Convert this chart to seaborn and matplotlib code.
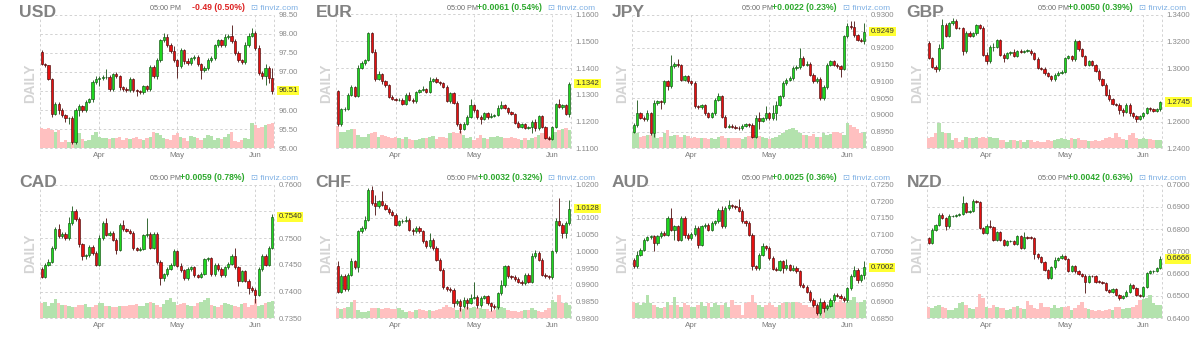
import numpy as np
import pandas as pd
import matplotlib
matplotlib.use("Agg")
import matplotlib.pyplot as plt
import seaborn as sns

sns.set_theme(style="white")
plt.rcParams["font.family"] = ["Liberation Sans", "DejaVu Sans"]

# ---------------- data ----------------
month_labels = ["Apr", "May", "Jun"]
month_idx = [17, 40, 63]

usd_open0 = 97.52
usd_close = [97.21,97.17,96.82,95.91,96.17,96.00,95.87,95.78,95.80,95.17,
             96.00,96.10,96.00,96.22,96.28,96.74,96.82,96.84,96.86,96.87,
             96.56,96.95,96.90,96.60,96.56,96.52,96.80,96.52,96.50,96.46,
             96.62,96.56,97.12,96.88,97.30,97.82,97.90,97.70,97.55,97.30,
             97.15,97.56,97.28,97.22,97.35,97.38,97.20,97.05,97.10,97.30,
             97.37,97.70,97.82,97.70,97.90,97.93,97.80,97.50,97.30,97.25,
             97.70,97.95,98.02,97.63,96.98,96.90,97.10,96.85,96.51]
usd_wick_hi = [0.04,0.03,0.02,0.03,0.05,0.05,0.05,0.03,0.03,0.05,
               0.05,0.05,0.04,0.05,0.04,0.05,0.06,0.04,0.05,0.20,
               0.04,0.03,0.05,0.03,0.03,0.04,0.06,0.05,0.04,0.03,
               0.04,0.04,0.05,0.05,0.05,0.05,0.12,0.10,0.05,0.12,
               0.03,0.06,0.05,0.08,0.05,0.05,0.05,0.04,0.04,0.05,
               0.05,0.04,0.05,0.05,0.08,0.05,0.30,0.05,0.04,0.04,
               0.08,0.06,0.12,0.05,0.06,0.05,0.10,0.05,0.25]
usd_wick_lo = [0.04,0.04,0.04,0.08,0.05,0.10,0.05,0.08,0.15,0.05,
               0.05,0.15,0.05,0.05,0.04,0.08,0.05,0.20,0.05,0.05,
               0.05,0.05,0.05,0.08,0.05,0.05,0.05,0.05,0.12,0.05,
               0.05,0.05,0.05,0.05,0.08,0.05,0.04,0.05,0.05,0.05,
               0.30,0.05,0.08,0.05,0.05,0.05,0.05,0.25,0.05,0.05,
               0.05,0.05,0.05,0.05,0.05,0.05,0.05,0.05,0.05,0.05,
               0.05,0.05,0.05,0.05,0.05,0.10,0.25,0.15,0.10]
usd_vol = [62,58,60,55,48,55,20,25,18,18,55,45,28,22,25,40,50,35,32,30,
           28,30,32,35,25,30,28,32,35,28,25,30,35,50,45,40,32,28,25,40,
           45,35,30,22,38,35,30,25,30,40,38,25,30,28,35,42,50,22,20,25,
           30,28,75,70,62,65,70,72,75]
usd_ticks = [95.00, 95.50, 96.00, 96.50, 97.00, 97.50, 98.00, 98.50]

eur_open0 = 1.1315
eur_close = [1.1190,1.1245,1.1248,1.1300,1.1330,1.1296,1.1400,1.1418,1.1430,1.1530,
             1.1460,1.1360,1.1378,1.1350,1.1335,1.1292,1.1285,1.1280,1.1282,1.1265,
             1.1300,1.1282,1.1276,1.1310,1.1318,1.1322,1.1310,1.1352,1.1358,1.1348,
             1.1343,1.1330,1.1278,1.1305,1.1270,1.1190,1.1173,1.1192,1.1218,1.1260,
             1.1242,1.1218,1.1210,1.1232,1.1218,1.1222,1.1224,1.1252,1.1262,1.1250,
             1.1235,1.1228,1.1196,1.1180,1.1190,1.1176,1.1178,1.1200,1.1175,1.1220,
             1.1180,1.1140,1.1135,1.1180,1.1265,1.1255,1.1262,1.1228,1.1342]
eur_wick_hi = [0.0003,0.0005,0.0005,0.0005,0.0005,0.0003,0.0010,0.0010,0.0005,0.0005,
               0.0005,0.0010,0.0010,0.0005,0.0005,0.0005,0.0008,0.0003,0.0005,0.0005,
               0.0005,0.0010,0.0005,0.0005,0.0005,0.0010,0.0005,0.0015,0.0005,0.0010,
               0.0005,0.0005,0.0005,0.0005,0.0005,0.0005,0.0005,0.0005,0.0008,0.0025,
               0.0005,0.0005,0.0005,0.0005,0.0005,0.0010,0.0005,0.0010,0.0015,0.0005,
               0.0005,0.0005,0.0005,0.0005,0.0005,0.0005,0.0005,0.0005,0.0010,0.0005,
               0.0005,0.0005,0.0005,0.0005,0.0005,0.0020,0.0005,0.0005,0.0005]
eur_wick_lo = [0.0005,0.0005,0.0005,0.0005,0.0005,0.0005,0.0005,0.0005,0.0005,0.0005,
               0.0005,0.0010,0.0005,0.0010,0.0005,0.0005,0.0005,0.0005,0.0005,0.0005,
               0.0005,0.0005,0.0005,0.0005,0.0005,0.0005,0.0005,0.0005,0.0005,0.0005,
               0.0005,0.0005,0.0005,0.0010,0.0005,0.0005,0.0015,0.0005,0.0005,0.0005,
               0.0005,0.0010,0.0020,0.0005,0.0010,0.0005,0.0005,0.0005,0.0005,0.0005,
               0.0005,0.0005,0.0005,0.0005,0.0005,0.0005,0.0005,0.0020,0.0010,0.0005,
               0.0005,0.0005,0.0005,0.0005,0.0005,0.0005,0.0010,0.0005,0.0010]
eur_vol = [67,50,50,55,58,58,40,35,35,42,45,50,35,40,38,35,30,35,30,28,
           35,28,25,25,28,30,30,35,38,28,35,35,30,45,50,45,52,40,30,35,
           25,30,40,30,28,35,35,38,35,30,30,35,32,28,25,30,25,30,35,40,
           45,30,35,40,50,55,58,60,55]
eur_ticks = [1.1100, 1.1200, 1.1300, 1.1400, 1.1500, 1.1600]

jpy_open0 = 0.8950
jpy_close = [0.8970,0.9005,0.8992,0.8988,0.9005,0.8945,0.9035,0.9040,0.9038,0.9100,
             0.9085,0.9145,0.9152,0.9148,0.9105,0.9115,0.9100,0.9095,0.9025,0.9023,
             0.9028,0.9005,0.8995,0.9005,0.9045,0.9055,0.8995,0.8965,0.8968,0.8965,
             0.8962,0.8960,0.8968,0.8972,0.8970,0.8935,0.8990,0.8983,0.8990,0.9005,
             0.8990,0.9005,0.9030,0.9055,0.9095,0.9105,0.9110,0.9140,0.9143,0.9170,
             0.9150,0.9152,0.9120,0.9100,0.9107,0.9050,0.9083,0.9150,0.9160,0.9150,
             0.9145,0.9138,0.9235,0.9265,0.9262,0.9238,0.9225,0.9222,0.9249]
jpy_wick_hi = [0.0005,0.0040,0.0005,0.0005,0.0010,0.0005,0.0010,0.0005,0.0005,0.0005,
               0.0005,0.0035,0.0005,0.0015,0.0005,0.0005,0.0005,0.0005,0.0005,0.0005,
               0.0005,0.0005,0.0005,0.0005,0.0005,0.0010,0.0005,0.0005,0.0005,0.0005,
               0.0005,0.0005,0.0005,0.0005,0.0005,0.0005,0.0010,0.0020,0.0005,0.0020,
               0.0005,0.0025,0.0010,0.0005,0.0005,0.0005,0.0005,0.0005,0.0005,0.0030,
               0.0005,0.0010,0.0005,0.0005,0.0005,0.0005,0.0005,0.0005,0.0005,0.0005,
               0.0005,0.0005,0.0005,0.0010,0.0015,0.0020,0.0005,0.0005,0.0025]
jpy_wick_lo = [0.0005,0.0005,0.0005,0.0005,0.0005,0.0005,0.0010,0.0005,0.0020,0.0005,
               0.0010,0.0005,0.0005,0.0005,0.0005,0.0005,0.0005,0.0005,0.0005,0.0005,
               0.0005,0.0005,0.0005,0.0005,0.0005,0.0005,0.0005,0.0005,0.0005,0.0005,
               0.0005,0.0005,0.0005,0.0005,0.0005,0.0005,0.0005,0.0025,0.0005,0.0005,
               0.0005,0.0005,0.0020,0.0005,0.0005,0.0005,0.0005,0.0005,0.0005,0.0005,
               0.0005,0.0005,0.0005,0.0005,0.0005,0.0005,0.0005,0.0005,0.0005,0.0005,
               0.0005,0.0025,0.0005,0.0005,0.0005,0.0005,0.0005,0.0005,0.0010]
jpy_vol = [50,45,35,38,40,40,42,30,35,45,55,38,40,40,35,40,38,30,35,32,
           30,30,28,30,28,35,38,30,32,30,32,30,28,35,38,42,40,38,35,32,
           28,30,35,40,45,55,58,60,55,45,40,40,38,42,35,35,45,40,42,48,
           50,45,40,75,70,65,58,45,50]
jpy_ticks = [0.8900, 0.8950, 0.9000, 0.9050, 0.9100, 0.9150, 0.9200, 0.9250, 0.9300]

gbp_open0 = 1.3190
gbp_close = [1.3075,1.3010,1.2990,1.3150,1.3320,1.3240,1.3335,1.3355,1.3300,1.3298,
             1.3125,1.3265,1.3240,1.3260,1.3320,1.3300,1.3100,1.3050,1.3155,1.3160,
             1.3210,1.3100,1.3075,1.3110,1.3118,1.3092,1.3125,1.3120,1.3128,1.3130,
             1.3110,1.3070,1.3000,1.2995,1.2960,1.2940,1.2915,1.2950,1.2965,1.2972,
             1.3075,1.3090,1.3065,1.3200,1.3140,1.3090,1.3025,1.3050,1.3022,1.2980,
             1.2915,1.2875,1.2800,1.2765,1.2730,1.2725,1.2688,1.2675,1.2725,1.2665,
             1.2640,1.2620,1.2640,1.2665,1.2700,1.2690,1.2680,1.2690,1.2745]
gbp_wick_hi = [0.0010,0.0010,0.0010,0.0030,0.0050,0.0020,0.0010,0.0020,0.0010,0.0010,
               0.0010,0.0010,0.0010,0.0010,0.0010,0.0010,0.0015,0.0020,0.0020,0.0030,
               0.0010,0.0010,0.0010,0.0010,0.0010,0.0025,0.0010,0.0020,0.0010,0.0010,
               0.0010,0.0010,0.0010,0.0010,0.0010,0.0010,0.0010,0.0010,0.0010,0.0010,
               0.0010,0.0010,0.0010,0.0015,0.0010,0.0010,0.0010,0.0010,0.0010,0.0010,
               0.0010,0.0010,0.0010,0.0040,0.0010,0.0010,0.0010,0.0010,0.0015,0.0010,
               0.0010,0.0010,0.0010,0.0010,0.0010,0.0010,0.0010,0.0010,0.0010]
gbp_wick_lo = [0.0010,0.0010,0.0020,0.0015,0.0010,0.0010,0.0010,0.0010,0.0010,0.0010,
               0.0030,0.0010,0.0010,0.0010,0.0010,0.0010,0.0010,0.0020,0.0010,0.0030,
               0.0010,0.0010,0.0030,0.0010,0.0010,0.0010,0.0010,0.0010,0.0010,0.0010,
               0.0010,0.0010,0.0010,0.0010,0.0010,0.0010,0.0015,0.0010,0.0010,0.0010,
               0.0010,0.0010,0.0010,0.0010,0.0010,0.0010,0.0010,0.0010,0.0010,0.0010,
               0.0010,0.0010,0.0010,0.0010,0.0010,0.0010,0.0030,0.0030,0.0010,0.0020,
               0.0010,0.0020,0.0010,0.0010,0.0010,0.0010,0.0010,0.0010,0.0010]
gbp_vol = [30,35,45,75,50,45,45,25,30,20,25,35,30,30,35,30,35,30,35,30,
           30,25,25,20,25,25,22,25,20,25,25,20,22,18,20,25,22,25,28,30,
           28,25,30,28,30,25,25,22,22,25,22,25,30,35,30,45,35,28,25,40,
           45,30,28,30,28,28,25,25,25]
gbp_ticks = [1.2400, 1.2600, 1.2800, 1.3000, 1.3200, 1.3400]

cad_open0 = 0.7442
cad_close = [0.7428,0.7450,0.7456,0.7481,0.7516,0.7503,0.7508,0.7500,0.7528,0.7550,
             0.7535,0.7488,0.7466,0.7468,0.7484,0.7472,0.7450,0.7500,0.7528,0.7506,
             0.7510,0.7497,0.7478,0.7525,0.7516,0.7514,0.7510,0.7481,0.7478,0.7480,
             0.7505,0.7508,0.7482,0.7508,0.7455,0.7425,0.7432,0.7443,0.7450,0.7475,
             0.7448,0.7440,0.7425,0.7442,0.7445,0.7430,0.7428,0.7433,0.7460,0.7462,
             0.7432,0.7450,0.7442,0.7430,0.7445,0.7452,0.7466,0.7445,0.7420,0.7438,
             0.7420,0.7407,0.7403,0.7394,0.7442,0.7467,0.7450,0.7482,0.7540]
cad_wick_hi = [0.0003,0.0003,0.0005,0.0005,0.0005,0.0010,0.0003,0.0003,0.0012,0.0010,
               0.0005,0.0005,0.0003,0.0003,0.0003,0.0003,0.0003,0.0005,0.0003,0.0010,
               0.0003,0.0003,0.0003,0.0003,0.0008,0.0003,0.0003,0.0003,0.0003,0.0003,
               0.0003,0.0030,0.0003,0.0003,0.0003,0.0003,0.0003,0.0003,0.0003,0.0005,
               0.0003,0.0005,0.0003,0.0003,0.0003,0.0003,0.0003,0.0003,0.0003,0.0003,
               0.0003,0.0003,0.0003,0.0003,0.0003,0.0003,0.0005,0.0015,0.0003,0.0003,
               0.0003,0.0003,0.0003,0.0003,0.0003,0.0003,0.0003,0.0003,0.0005]
cad_wick_lo = [0.0003,0.0003,0.0003,0.0003,0.0003,0.0003,0.0003,0.0003,0.0003,0.0003,
               0.0003,0.0005,0.0008,0.0005,0.0003,0.0003,0.0003,0.0003,0.0003,0.0003,
               0.0003,0.0003,0.0008,0.0003,0.0003,0.0003,0.0003,0.0003,0.0003,0.0003,
               0.0003,0.0003,0.0003,0.0003,0.0003,0.0012,0.0005,0.0003,0.0003,0.0003,
               0.0003,0.0003,0.0003,0.0003,0.0003,0.0003,0.0003,0.0003,0.0003,0.0003,
               0.0003,0.0003,0.0003,0.0003,0.0003,0.0003,0.0003,0.0003,0.0010,0.0003,
               0.0003,0.0012,0.0003,0.0015,0.0003,0.0003,0.0003,0.0003,0.0003]
cad_vol = [45,48,38,45,57,45,40,40,38,35,35,40,40,42,35,35,40,45,45,38,
           38,35,35,38,36,38,40,40,42,38,38,45,50,45,40,35,42,55,60,50,
           40,42,45,40,38,38,45,48,55,62,40,38,35,40,45,42,40,38,35,42,
           45,35,40,58,38,40,45,50,52]
cad_ticks = [0.7350, 0.7400, 0.7450, 0.7500, 0.7550, 0.7600]

chf_open0 = 0.9955
chf_close = [0.9880,0.9927,0.9887,0.9930,0.9970,0.9953,1.0060,1.0070,1.0095,1.0185,
             1.0145,1.0135,1.0150,1.0140,1.0128,1.0118,1.0110,1.0080,1.0090,1.0092,
             1.0095,1.0065,1.0060,1.0070,1.0060,1.0030,1.0015,1.0035,1.0010,0.9975,
             0.9945,0.9893,0.9888,0.9885,0.9845,0.9852,0.9837,0.9855,0.9847,0.9862,
             0.9864,0.9840,0.9862,0.9866,0.9845,0.9837,0.9833,0.9875,0.9900,0.9955,
             0.9925,0.9923,0.9918,0.9910,0.9905,0.9930,0.9910,0.9985,0.9995,0.9975,
             0.9930,0.9925,0.9922,1.0000,1.0090,1.0080,1.0055,1.0085,1.0128]
chf_wick_hi = [0.0015,0.0005,0.0005,0.0005,0.0010,0.0005,0.0005,0.0005,0.0010,0.0005,
               0.0010,0.0025,0.0005,0.0030,0.0005,0.0005,0.0005,0.0005,0.0005,0.0005,
               0.0010,0.0005,0.0005,0.0005,0.0005,0.0005,0.0005,0.0020,0.0005,0.0005,
               0.0005,0.0005,0.0005,0.0005,0.0005,0.0005,0.0005,0.0010,0.0005,0.0010,
               0.0045,0.0005,0.0005,0.0005,0.0005,0.0005,0.0005,0.0005,0.0015,0.0005,
               0.0005,0.0005,0.0005,0.0005,0.0005,0.0005,0.0005,0.0010,0.0010,0.0005,
               0.0005,0.0005,0.0005,0.0005,0.0010,0.0070,0.0005,0.0005,0.0025]
chf_wick_lo = [0.0005,0.0005,0.0005,0.0005,0.0005,0.0005,0.0015,0.0005,0.0005,0.0005,
               0.0005,0.0025,0.0005,0.0005,0.0005,0.0005,0.0005,0.0005,0.0005,0.0005,
               0.0005,0.0005,0.0010,0.0005,0.0005,0.0005,0.0005,0.0005,0.0005,0.0005,
               0.0005,0.0005,0.0005,0.0005,0.0010,0.0005,0.0015,0.0005,0.0020,0.0005,
               0.0005,0.0010,0.0005,0.0005,0.0005,0.0015,0.0005,0.0005,0.0005,0.0005,
               0.0005,0.0005,0.0005,0.0005,0.0005,0.0005,0.0005,0.0005,0.0005,0.0005,
               0.0005,0.0005,0.0005,0.0005,0.0005,0.0005,0.0015,0.0015,0.0005]
chf_vol = [30,28,30,35,50,55,25,20,20,22,30,32,32,28,30,30,28,28,32,25,
           20,22,20,25,28,25,22,25,22,25,28,35,40,35,30,25,30,28,35,30,
           35,32,30,28,28,22,25,38,35,30,25,22,22,20,22,25,25,30,25,22,
           20,25,30,55,50,70,45,45,40]
chf_ticks = [0.9800, 0.9850, 0.9900, 0.9950, 1.0000, 1.0050, 1.0100, 1.0150, 1.0200]

aud_open0 = 0.7025
aud_close = [0.7005,0.7040,0.7055,0.7085,0.7092,0.7095,0.7075,0.7095,0.7105,0.7100,
             0.7150,0.7115,0.7125,0.7085,0.7150,0.7100,0.7090,0.7102,0.7120,0.7070,
             0.7125,0.7130,0.7115,0.7135,0.7140,0.7175,0.7125,0.7180,0.7188,0.7185,
             0.7182,0.7172,0.7140,0.7135,0.7100,0.7005,0.7000,0.7040,0.7065,0.7060,
             0.7030,0.6998,0.6995,0.7020,0.7000,0.7008,0.6995,0.7000,0.6990,0.6950,
             0.6945,0.6930,0.6905,0.6890,0.6865,0.6900,0.6880,0.6888,0.6905,0.6920,
             0.6918,0.6912,0.6905,0.6940,0.6977,0.6995,0.6965,0.6978,0.7002]
aud_wick_hi = [0.0005,0.0010,0.0005,0.0005,0.0005,0.0005,0.0005,0.0005,0.0005,0.0005,
               0.0005,0.0030,0.0005,0.0005,0.0005,0.0005,0.0005,0.0005,0.0010,0.0005,
               0.0005,0.0005,0.0005,0.0005,0.0005,0.0005,0.0010,0.0005,0.0015,0.0005,
               0.0005,0.0025,0.0005,0.0005,0.0005,0.0005,0.0005,0.0005,0.0010,0.0005,
               0.0005,0.0005,0.0005,0.0005,0.0005,0.0020,0.0005,0.0010,0.0005,0.0005,
               0.0005,0.0005,0.0005,0.0005,0.0005,0.0010,0.0005,0.0005,0.0005,0.0005,
               0.0005,0.0005,0.0005,0.0005,0.0005,0.0010,0.0005,0.0005,0.0020]
aud_wick_lo = [0.0005,0.0005,0.0005,0.0005,0.0005,0.0005,0.0025,0.0005,0.0005,0.0005,
               0.0005,0.0005,0.0030,0.0005,0.0005,0.0010,0.0005,0.0005,0.0005,0.0010,
               0.0005,0.0005,0.0005,0.0005,0.0005,0.0005,0.0005,0.0005,0.0005,0.0005,
               0.0005,0.0005,0.0005,0.0010,0.0005,0.0010,0.0005,0.0005,0.0005,0.0005,
               0.0005,0.0005,0.0005,0.0005,0.0015,0.0005,0.0005,0.0005,0.0005,0.0005,
               0.0005,0.0005,0.0005,0.0005,0.0005,0.0005,0.0010,0.0005,0.0005,0.0005,
               0.0005,0.0005,0.0005,0.0005,0.0005,0.0005,0.0010,0.0005,0.0010]
aud_vol = [50,45,40,45,70,45,40,35,30,35,50,40,65,40,35,45,40,35,35,40,
           50,38,45,35,45,40,40,45,35,55,40,40,10,45,50,70,45,40,35,40,
           45,40,35,40,45,50,45,50,50,45,40,40,35,40,35,40,45,40,45,50,
           50,55,45,50,55,65,45,50,55]
aud_ticks = [0.6850, 0.6900, 0.6950, 0.7000, 0.7050, 0.7100, 0.7150, 0.7200, 0.7250]

nzd_open0 = 0.6760
nzd_close = [0.6738,0.6798,0.6820,0.6865,0.6850,0.6812,0.6858,0.6860,0.6862,0.6868,
             0.6918,0.6875,0.6880,0.6925,0.6922,0.6805,0.6782,0.6812,0.6808,0.6752,
             0.6785,0.6752,0.6730,0.6745,0.6748,0.6735,0.6768,0.6715,0.6765,0.6762,
             0.6760,0.6688,0.6673,0.6652,0.6618,0.6580,0.6628,0.6663,0.6670,0.6678,
             0.6665,0.6612,0.6635,0.6610,0.6598,0.6590,0.6565,0.6590,0.6588,0.6565,
             0.6563,0.6558,0.6528,0.6520,0.6533,0.6505,0.6490,0.6500,0.6520,0.6550,
             0.6535,0.6505,0.6500,0.6542,0.6602,0.6610,0.6612,0.6625,0.6666]
nzd_wick_hi = [0.0005,0.0005,0.0005,0.0005,0.0005,0.0005,0.0010,0.0005,0.0005,0.0005,
               0.0030,0.0005,0.0005,0.0010,0.0005,0.0005,0.0005,0.0010,0.0030,0.0005,
               0.0005,0.0005,0.0005,0.0005,0.0005,0.0005,0.0005,0.0005,0.0020,0.0005,
               0.0005,0.0005,0.0005,0.0005,0.0005,0.0005,0.0005,0.0010,0.0005,0.0010,
               0.0005,0.0005,0.0005,0.0005,0.0005,0.0005,0.0010,0.0005,0.0005,0.0005,
               0.0005,0.0005,0.0005,0.0005,0.0005,0.0005,0.0005,0.0005,0.0005,0.0010,
               0.0005,0.0005,0.0005,0.0005,0.0005,0.0005,0.0005,0.0005,0.0015]
nzd_wick_lo = [0.0005,0.0005,0.0005,0.0005,0.0005,0.0015,0.0005,0.0005,0.0005,0.0005,
               0.0005,0.0005,0.0005,0.0005,0.0005,0.0005,0.0005,0.0005,0.0005,0.0005,
               0.0005,0.0005,0.0005,0.0005,0.0005,0.0005,0.0005,0.0005,0.0005,0.0005,
               0.0005,0.0020,0.0005,0.0005,0.0005,0.0005,0.0005,0.0005,0.0005,0.0005,
               0.0005,0.0005,0.0005,0.0005,0.0005,0.0005,0.0050,0.0005,0.0005,0.0005,
               0.0005,0.0005,0.0005,0.0005,0.0005,0.0005,0.0008,0.0005,0.0005,0.0005,
               0.0005,0.0005,0.0005,0.0005,0.0005,0.0005,0.0005,0.0005,0.0005]
nzd_vol = [35,30,38,40,35,30,25,25,30,45,48,40,30,28,35,73,60,35,30,40,
           35,30,32,25,28,35,38,30,28,52,40,30,28,45,35,35,32,40,30,35,
           35,38,25,30,40,50,30,28,25,22,25,22,24,28,25,35,35,28,32,30,
           35,40,55,58,62,70,45,40,40]
nzd_ticks = [0.6400, 0.6500, 0.6600, 0.6700, 0.6800, 0.6900, 0.7000]

names = ["USD", "EUR", "JPY", "GBP", "CAD", "CHF", "AUD", "NZD"]
changes = ["-0.49 (0.50%)", "+0.0061 (0.54%)", "+0.0022 (0.23%)", "+0.0050 (0.39%)",
           "+0.0059 (0.78%)", "+0.0032 (0.32%)", "+0.0025 (0.36%)", "+0.0042 (0.63%)"]
last_labels = ["96.51", "1.1342", "0.9249", "1.2745", "0.7540", "1.0128", "0.7002", "0.6666"]
decimals = [2, 4, 4, 4, 4, 4, 4, 4]

series = {
    "USD": (usd_open0, usd_close, usd_wick_hi, usd_wick_lo, usd_vol, usd_ticks),
    "EUR": (eur_open0, eur_close, eur_wick_hi, eur_wick_lo, eur_vol, eur_ticks),
    "JPY": (jpy_open0, jpy_close, jpy_wick_hi, jpy_wick_lo, jpy_vol, jpy_ticks),
    "GBP": (gbp_open0, gbp_close, gbp_wick_hi, gbp_wick_lo, gbp_vol, gbp_ticks),
    "CAD": (cad_open0, cad_close, cad_wick_hi, cad_wick_lo, cad_vol, cad_ticks),
    "CHF": (chf_open0, chf_close, chf_wick_hi, chf_wick_lo, chf_vol, chf_ticks),
    "AUD": (aud_open0, aud_close, aud_wick_hi, aud_wick_lo, aud_vol, aud_ticks),
    "NZD": (nzd_open0, nzd_close, nzd_wick_hi, nzd_wick_lo, nzd_vol, nzd_ticks),
}

# ---------------- layout / style ----------------
W, H = 1198, 340
fig = plt.figure(figsize=(W / 100, H / 100), dpi=100)
fig.patch.set_facecolor("white")

col_geom = [(0, 40, 274), (300, 36, 271), (600, 32, 266), (900, 27, 262)]
row_y = [0, 170]
TOP, BOT = 14.5, 148.3

GRID = "#d2d2d2"
UP_FC, UP_EC = "#1fd71f", "#145214"
DN_FC, DN_EC = "#e61010", "#4a0d0d"
VOL_UP, VOL_DN = "#b3e2ad", "#ffc0c0"


def fx(px):
    return px / W


def fy(py):
    return 1 - py / H


for k, name in enumerate(names):
    r, c = divmod(k, 4)
    x0, pl, pr = col_geom[c]
    y0 = row_y[r]
    rect = [fx(x0 + pl), fy(y0 + BOT), fx(pr - pl), (BOT - TOP) / H]

    open0, close, whi, wlo, vol, ticks = series[name]
    n = min(len(close), len(whi), len(wlo), len(vol))
    close = np.array(close[:n])
    opens = np.concatenate([[open0], close[:-1]])
    whi = np.array(whi[:n]); wlo = np.array(wlo[:n]); vol = np.array(vol[:n])
    up = close >= opens
    idx = np.arange(n)
    ylo, yhi = ticks[0], ticks[-1]
    last = float(last_labels[k])

    # grid / labels axis
    axg = fig.add_axes(rect)
    axg.set_xlim(-0.5, n - 0.5)
    axg.set_ylim(ylo, yhi)
    axg.set_facecolor("white")
    for s in axg.spines.values():
        s.set_visible(False)
    axg.set_yticks(ticks)
    # tick labels too close to the highlighted last price are not shown
    px_per_unit = (BOT - TOP) / (yhi - ylo)
    axg.set_yticklabels([f"{t:.{decimals[k]}f}" if abs(t - last) * px_per_unit > 7.5 else ""
                         for t in ticks])
    axg.yaxis.tick_right()
    axg.tick_params(axis="y", length=0, pad=3.1, labelsize=5.6, labelcolor="#8a8a8a")
    axg.set_xticks(month_idx)
    axg.set_xticklabels(month_labels)
    axg.tick_params(axis="x", length=0, pad=3.0, labelsize=5.8, labelcolor="#7a7a7a")
    axg.grid(True, color=GRID, linestyle=(0, (2.5, 2.5)), linewidth=0.7)
    for gl in axg.get_ygridlines() + axg.get_xgridlines():
        gl.set_clip_on(False)
    for xe in (-0.5, n - 0.5):
        axg.axvline(xe, color=GRID, linestyle=(0, (2.5, 2.5)), linewidth=0.7, clip_on=False)

    # volume axis
    axv = fig.add_axes(rect, sharex=axg)
    vdf = pd.DataFrame({"i": idx, "vol": vol, "dir": np.where(up, "up", "down")})
    sns.barplot(data=vdf, x="i", y="vol", hue="dir", palette={"up": VOL_UP, "down": VOL_DN},
                dodge=False, width=1.0, saturation=1, errorbar=None, legend=False,
                linewidth=0, ax=axv)
    axv.set_xlim(-0.5, n - 0.5)
    axv.set_ylim(0, 403)
    axv.axis("off")
    axv.patch.set_alpha(0)

    # candle axis
    axc = fig.add_axes(rect)
    axc.set_xlim(-0.5, n - 0.5)
    axc.set_ylim(ylo, yhi)
    axc.axis("off")
    axc.patch.set_alpha(0)
    body_lo = np.minimum(opens, close)
    body_hi = np.maximum(opens, close)
    min_h = (yhi - ylo) * 0.004
    wick_col = np.where(up, UP_EC, DN_EC)
    axc.vlines(idx, body_lo - wlo, body_hi + whi, colors=wick_col, linewidth=0.6, zorder=2)
    axc.bar(idx, np.maximum(body_hi - body_lo, min_h), bottom=body_lo, width=0.66,
            color=np.where(up, UP_FC, DN_FC), edgecolor=wick_col, linewidth=0.45, zorder=3)

    # yellow last-price label
    axc.annotate(last_labels[k], xy=(1, last), xycoords=("axes fraction", "data"),
                 xytext=(3.1, 0), textcoords="offset points", ha="left", va="center",
                 fontsize=5.6, color="#333333", annotation_clip=False,
                 bbox=dict(boxstyle="square,pad=0.18", fc="#ffff33", ec="none"), zorder=6)

    # header texts
    fig.text(fx(x0 + pl - 20.5), fy(y0 + 17.3), name, fontsize=12.6, fontweight="bold",
             color="#828282", ha="left", va="baseline")
    fig.text(fx(x0 + pr - 93), fy(y0 + 9.6), "05:00 PM", fontsize=5.2,
             color="#6a6a6a", ha="right", va="baseline")
    fig.text(fx(x0 + pr - 29), fy(y0 + 9.6), changes[k], fontsize=6.2, fontweight="bold",
             color="#dd2222" if changes[k].startswith("-") else "#2ca82c",
             ha="right", va="baseline")
    fig.text(fx(x0 + pr + 24), fy(y0 + 9.6), "\u22a1 finviz.com", fontsize=6.0,
             color="#7fb0e4", ha="right", va="baseline",
             family=["Liberation Sans", "DejaVu Sans"])
    fig.text(fx(x0 + pl - 9.5), fy(y0 + 83), "DAILY", fontsize=9.8, fontweight="bold",
             color="#d4d4d4", rotation=90, ha="center", va="center")

fig.savefig("out.png", dpi=100, facecolor="white")
